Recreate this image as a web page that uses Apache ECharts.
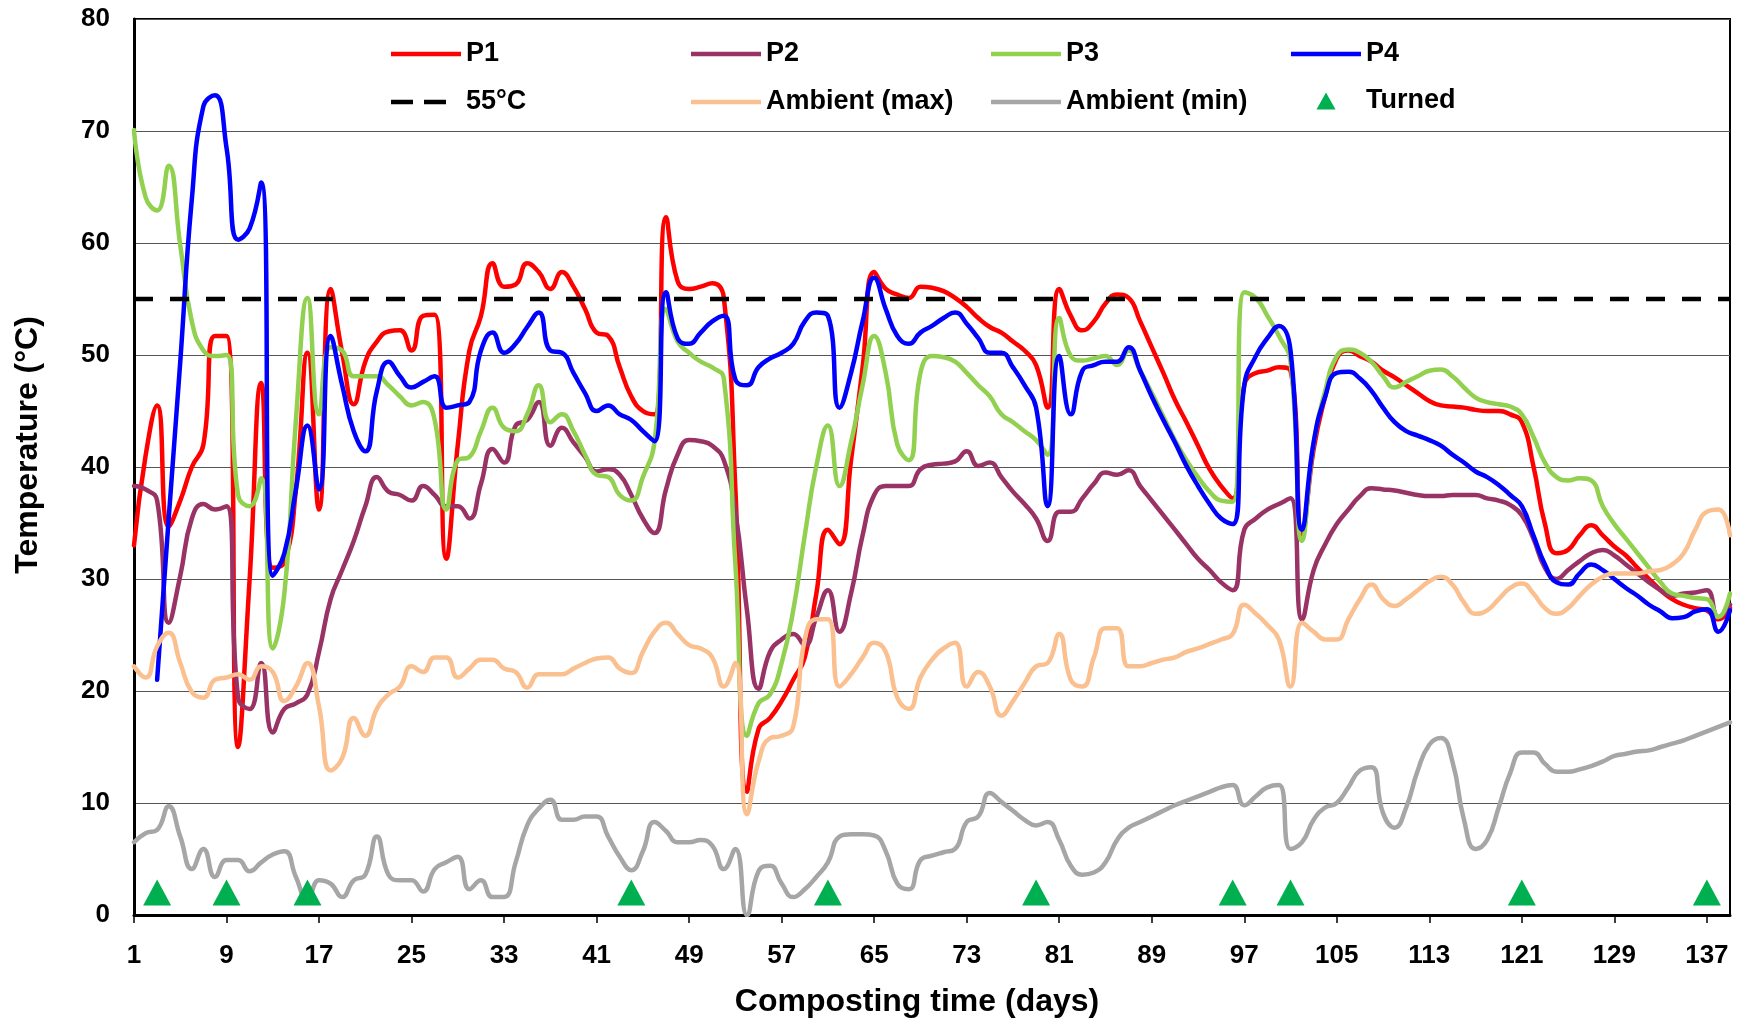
<!DOCTYPE html>
<html>
<head>
<meta charset="utf-8">
<script src="https://cdn.jsdelivr.net/npm/echarts@6/dist/echarts.min.js"></script>
<style>
  html, body { margin: 0; padding: 0; background: #ffffff; }
  #chart { width: 1747px; height: 1023px; }
</style>
</head>
<body>
<div id="chart"></div>
<script>
// Composting days 1..139 (category axis)
const days = [];
for (let d = 1; d <= 139; d++) days.push(String(d));

// Pile temperatures (°C), one value per day
const p1 = [
  33, 41, 45.5, 34.7, 37, 40, 42, 51.7, 51.7, 15,
  30, 47.5, 31, 31.5, 38, 50.2, 36.2, 55.9, 50.2, 45.6,
  49.4, 51.2, 52.1, 52.2, 50.4, 53.5, 53.6, 31.8, 42, 50.4,
  53.5, 58.2, 56.1, 56.3, 58.2, 57.4, 55.9, 57.4, 56.1, 54.1,
  52, 51.7, 48.9, 46.3, 45, 44.7, 62.3, 56.6, 55.9, 56.1,
  56.4, 55.1, 38, 11, 16.6, 17.6, 19.1, 21, 23, 28.7,
  34.4, 33.1, 40.6, 48.9, 57.4, 55.9, 55.4, 55.1, 56.1, 56,
  55.7, 55.1, 54.3, 53.3, 52.5, 52, 51.2, 50.4, 49.1, 45.3,
  55.9, 53.5, 52.2, 53, 54.6, 55.4, 55.1, 53, 50.7, 48.4,
  46, 44, 41.9, 39.8, 38.3, 37.2, 47.3, 48.4, 48.6, 48.9,
  48.6, 34, 41.6, 46.3, 49.7, 50.4, 49.9, 49.4, 48.6, 48,
  47.3, 46.6, 45.9, 45.5, 45.4, 45.3, 45.1, 45, 45, 44.7,
  44, 40.1, 34.9, 32.3, 32.6, 33.9, 34.8, 33.9, 32.9, 32.1,
  31, 30, 29, 28.2, 27.7, 27.4, 27.2, 26.4, 27.4
];
const p2 = [
  38.3, 38, 37, 26.1, 30.3, 35.4, 36.7, 36.2, 36.5, 19.4,
  18.4, 22.5, 16.3, 18.4, 18.9, 19.7, 23.5, 28.2, 30.8, 33.4,
  36.5, 39.1, 37.8, 37.5, 37, 38.3, 37.5, 36.5, 36.5, 35.4,
  38.5, 41.6, 40.4, 43.7, 44.2, 45.8, 41.9, 43.5, 42.2, 40.9,
  39.6, 39.8, 39.3, 37.5, 35.4, 34.1, 38, 41.1, 42.4, 42.3,
  41.9, 40.6, 36, 27.2, 20.2, 23.5, 24.6, 25.1, 24.1, 26.6,
  29, 25.3, 28.7, 33.9, 37.5, 38.3, 38.3, 38.3, 39.8, 40.2,
  40.3, 40.5, 41.4, 40.1, 40.4, 39.1, 37.8, 36.7, 35.4, 33.4,
  36, 36, 37.2, 38.5, 39.5, 39.3, 39.7, 38.3, 37, 35.7,
  34.4, 33.1, 31.8, 30.8, 29.7, 29, 34.4, 35.4, 36.2, 36.7,
  37.2, 26.4, 30.8, 33.1, 34.9, 36.2, 37.4, 38.1, 38, 37.9,
  37.7, 37.5, 37.4, 37.4, 37.5, 37.5, 37.5, 37.2, 37, 36.6,
  35.7, 33.6, 31, 30, 30.8, 31.6, 32.3, 32.6, 32.1, 31.3,
  30.5, 29.7, 29, 28.5, 28.7, 28.8, 29, 26.6, 27.7
];
const p3 = [
  70.1, 64.1, 62.9, 66.9, 59.8, 53, 50.4, 49.9, 50, 37.5,
  36.5, 39, 23.8, 28.7, 44.2, 55.1, 44.7, 50.7, 50.4, 48.1,
  48.1, 48.1, 47.3, 46.3, 45.5, 45.8, 44.2, 36.2, 40.6, 40.9,
  43.2, 45.3, 43.5, 43.2, 44.7, 47.3, 44, 44.7, 43.2, 41.1,
  39.3, 39.1, 37.5, 37, 39.1, 42.2, 54.1, 51.2, 50.2, 49.4,
  48.9, 47.9, 31.3, 16, 18.9, 19.7, 22.5, 27.2, 33.9, 40.1,
  43.7, 38.3, 42.2, 47.3, 51.7, 48.4, 42, 40.6, 48.4, 49.9,
  49.8, 49.4, 48.4, 47.3, 46.3, 44.7, 44, 43.2, 42.4, 41.1,
  53.3, 49.9, 49.5, 49.7, 49.9, 49.1, 50.4, 48.6, 46.6, 44.5,
  42.4, 40.6, 39.1, 37.8, 37, 36.9, 55.6, 55.1, 53.5, 51.7,
  49.4, 33.4, 42.2, 46.8, 49.9, 50.5, 50.2, 49.4, 48.1, 47.1,
  47.6, 48.1, 48.6, 48.7, 48.1, 47.1, 46.2, 45.8, 45.6, 45.4,
  44.7, 42.7, 40.4, 39.1, 38.8, 39, 38.8, 36.5, 34.9, 33.6,
  32.3, 31, 29.7, 28.7, 28.5, 28.3, 28.2, 26.6, 28.7
];
const p4 = [
  null, null, 21, 35.4, 49.4, 63.9, 72.2, 73.2, 68.5, 60.3,
  61.3, 65.4, 30.3, 32.3, 38, 43.7, 38, 51.7, 47.3, 43.2,
  41.4, 46.8, 49.4, 48.1, 47.1, 47.6, 48.1, 45.3, 45.5, 45.8,
  50.4, 52, 50.2, 51, 52.5, 53.8, 50.4, 50.2, 48.4, 46.6,
  45, 45.5, 44.7, 44.2, 43.2, 42.3, 55.6, 51.5, 51, 52,
  53, 53.5, 47.8, 47.3, 48.9, 49.7, 50.2, 51, 53, 53.8,
  53.5, 45.3, 48.4, 53, 56.9, 54.1, 51.7, 51, 52, 52.6,
  53.3, 53.8, 52.8, 51.5, 50.2, 50.2, 48.9, 47.3, 45.3, 36.5,
  49.9, 44.7, 48.6, 49.1, 49.4, 49.4, 50.7, 48.6, 46.3, 44.2,
  42.2, 40.1, 38.3, 36.7, 35.4, 34.9, 47.3, 49.9, 51.5, 52.6,
  50.4, 34.4, 42.2, 46.3, 48.4, 48.5, 47.9, 46.8, 45.3, 44,
  43.2, 42.8, 42.4, 41.9, 41.1, 40.4, 39.6, 39.1, 38.4, 37.5,
  36.5, 33.9, 31.3, 29.7, 29.5, 30.5, 31.3, 30.8, 30, 29.2,
  28.5, 27.7, 27.1, 26.5, 26.6, 27.1, 27.3, 25.3, 27.2
];

// Ambient air temperatures (°C)
const ambientMax = [
  22.2, 21.2, 24, 25.2, 22.5, 19.9, 19.4, 21, 21.2, 21.5,
  21, 22.2, 21.7, 19.1, 20.4, 22.5, 18.6, 12.9, 14, 17.6,
  16, 18.4, 19.7, 20.4, 22.2, 21.7, 23, 23, 21.2, 22,
  22.8, 22.8, 22, 21.7, 20.3, 21.5, 21.5, 21.5, 22, 22.5,
  22.9, 23, 22, 21.6, 23.5, 25.3, 26.1, 25.1, 24.1, 23.8,
  23, 20.4, 22.5, 9, 13.7, 15.8, 16, 16.8, 24.6, 26.4,
  26.4, 20.4, 21.5, 23, 24.3, 23.5, 19.4, 18.4, 21.2, 22.8,
  23.8, 24.3, 20.4, 21.7, 20.4, 17.8, 19.1, 20.7, 22.2, 22.5,
  25.1, 21, 20.4, 23, 25.6, 25.6, 22.2, 22.2, 22.5, 22.8,
  23, 23.5, 23.8, 24.2, 24.6, 25.1, 27.7, 26.9, 25.9, 24.6,
  20.4, 26.1, 25.3, 24.6, 24.6, 26.4, 28.2, 29.5, 28.2, 27.6,
  28.2, 29, 29.8, 30.2, 29.5, 27.9, 26.9, 27.2, 28.2, 29.2,
  29.6, 28.7, 27.4, 26.9, 27.4, 28.5, 29.5, 30.2, 30.5, 30.5,
  30.5, 30.7, 30.8, 31.3, 32.3, 34.4, 36, 36.2, 33.9
];
const ambientMin = [
  6.5, 7.3, 7.6, 9.7, 7, 4.1, 5.9, 3.4, 4.9, 4.9,
  3.9, 4.7, 5.4, 5.7, 3.4, 1.3, 3.1, 2.8, 1.6, 3.1,
  3.6, 7, 3.6, 3.1, 3.1, 2.1, 4.1, 4.7, 5.2, 2.3,
  3.1, 1.6, 1.6, 4.7, 8, 9.5, 10.3, 8.5, 8.5, 8.8,
  8.8, 7, 5.2, 4, 5.7, 8.3, 7.5, 6.5, 6.5, 6.7,
  6.2, 4.1, 5.9, 0, 3.9, 4.4, 2.8, 1.6, 2.3, 3.4,
  4.7, 7, 7.2, 7.2, 7.1, 5.7, 2.8, 2.3, 4.9, 5.3,
  5.6, 5.9, 8.3, 8.8, 10.9, 10.1, 9.3, 8.5, 8, 8.3,
  6.7, 4.4, 3.6, 3.8, 4.7, 6.7, 7.8, 8.3, 8.8, 9.3,
  9.8, 10.2, 10.6, 11, 11.4, 11.6, 9.8, 10.6, 11.4, 11.6,
  5.9, 6.5, 8.5, 9.6, 10, 11.4, 12.9, 13.2, 9.1, 7.8,
  9.6, 12.9, 15.2, 15.8, 13.7, 8.5, 5.9, 6.7, 9.6, 12.7,
  14.5, 14.5, 13.5, 12.8, 12.8, 13, 13.3, 13.7, 14.2, 14.4,
  14.6, 14.7, 15, 15.3, 15.6, 16, 16.4, 16.8, 17.2
];

// Thermophilic threshold and turning events
const thresholdTemp = 55;
const turnedDays = [3, 9, 16, 44, 61, 79, 96, 101, 121, 137];
const turnedLevel = 2;

const FONT = "'Liberation Sans', Arial, Helvetica, sans-serif";
const COLORS = {
  p1: '#FF0000', p2: '#993366', p3: '#92D050', p4: '#0000FF',
  limit: '#000000', amax: '#FAC090', amin: '#A6A6A6', turned: '#00B050'
};
const LINE_W = 4.5;

function lineSeries(name, data, color, width, extra) {
  return Object.assign({
    name, type: 'line', data, color,
    smooth: 0.5, symbol: 'none', showSymbol: false, connectNulls: false,
    lineStyle: { color, width, cap: 'round', join: 'round' },
    itemStyle: { color },
    emphasis: { disabled: true }, silent: true, animation: false
  }, extra || {});
}

// Legend icons span the full 70px item width so every item lines up on its column
const LINE_ICON = 'path://M0,0H70V4.5H0Z';
const DASH_ICON = 'path://M0,0H22V4.5H0Z M33,0H55V4.5H33Z M69.9,2.2H70V2.3H69.9Z';
const TRI_ICON = 'path://M35,0L44.5,17L25.5,17Z M0,8.4H0.1V8.5H0Z M69.9,8.4H70V8.5H69.9Z';

function legendAt(name, left, top, icon, color, h) {
  return {
    data: [name], left, top, padding: 0, itemGap: 0,
    itemWidth: 70, itemHeight: h || 14, icon, selectedMode: false,
    itemStyle: { color, borderWidth: 0, opacity: 1 },
    textStyle: { fontFamily: FONT, fontSize: 27, fontWeight: 'bold', color: '#000' }
  };
}

const row1 = 40.5, row2 = 88.5;
const cols = [391, 691, 991, 1291];

const chart = echarts.init(document.getElementById('chart'), null, { renderer: 'canvas' });
chart.setOption({
  backgroundColor: '#ffffff',
  animation: false,
  grid: {
    left: 134, right: 17, top: 19, bottom: 106,
    show: true, borderColor: '#000', borderWidth: 2, backgroundColor: 'transparent'
  },
  legend: [
    legendAt('P1', cols[0], row1, LINE_ICON, COLORS.p1),
    legendAt('P2', cols[1], row1, LINE_ICON, COLORS.p2),
    legendAt('P3', cols[2], row1, LINE_ICON, COLORS.p3),
    legendAt('P4', cols[3], row1, LINE_ICON, COLORS.p4),
    legendAt('55°C', cols[0], row2, DASH_ICON, COLORS.limit),
    legendAt('Ambient (max)', cols[1], row2, LINE_ICON, COLORS.amax),
    legendAt('Ambient (min)', cols[2], row2, LINE_ICON, COLORS.amin),
    legendAt('Turned', cols[3], row2 - 1, TRI_ICON, COLORS.turned, 17)
  ],
  xAxis: {
    type: 'category', data: days, boundaryGap: false,
    axisLine: { show: true, lineStyle: { color: '#000', width: 3 } },
    axisTick: { show: true, interval: 7, length: 8, lineStyle: { color: '#000', width: 1.5 } },
    axisLabel: {
      interval: 7, margin: 28, color: '#000',
      fontFamily: FONT, fontSize: 26, fontWeight: 'bold'
    },
    splitLine: { show: false },
    name: 'Composting time (days)', nameLocation: 'middle', nameGap: 71,
    nameTextStyle: {
      fontFamily: FONT, fontSize: 32, fontWeight: 'bold', color: '#000',
      padding: [0, 30, 0, 0]
    }
  },
  yAxis: {
    type: 'value', min: 0, max: 80, interval: 10,
    axisLine: { show: true, lineStyle: { color: '#000', width: 3 } },
    axisTick: { show: false },
    axisLabel: { margin: 24, color: '#000', fontFamily: FONT, fontSize: 26, fontWeight: 'bold' },
    splitLine: { show: true, lineStyle: { color: '#555', width: 1 } },
    name: 'Temperature (°C)', nameLocation: 'middle', nameGap: 90, nameRotate: 90,
    nameTextStyle: {
      fontFamily: FONT, fontSize: 32, fontWeight: 'bold', color: '#000',
      padding: [0, 0, 0, 44]
    }
  },
  series: [
    lineSeries('P1', p1, COLORS.p1, LINE_W),
    lineSeries('P2', p2, COLORS.p2, LINE_W),
    lineSeries('P3', p3, COLORS.p3, LINE_W),
    lineSeries('P4', p4, COLORS.p4, LINE_W),
    lineSeries('55°C', days.map(() => thresholdTemp), COLORS.limit, 4.5, {
      smooth: false,
      lineStyle: { color: COLORS.limit, width: 4.5, type: [19, 17], cap: 'butt' }
    }),
    lineSeries('Ambient (max)', ambientMax, COLORS.amax, LINE_W),
    lineSeries('Ambient (min)', ambientMin, COLORS.amin, LINE_W),
    {
      name: 'Turned', type: 'scatter',
      data: turnedDays.map(d => [String(d), turnedLevel]),
      symbol: 'triangle', symbolSize: [28, 26],
      itemStyle: { color: COLORS.turned, opacity: 1 },
      emphasis: { disabled: true }, silent: true, animation: false, z: 5
    }
  ]
});
</script>
</body>
</html>
